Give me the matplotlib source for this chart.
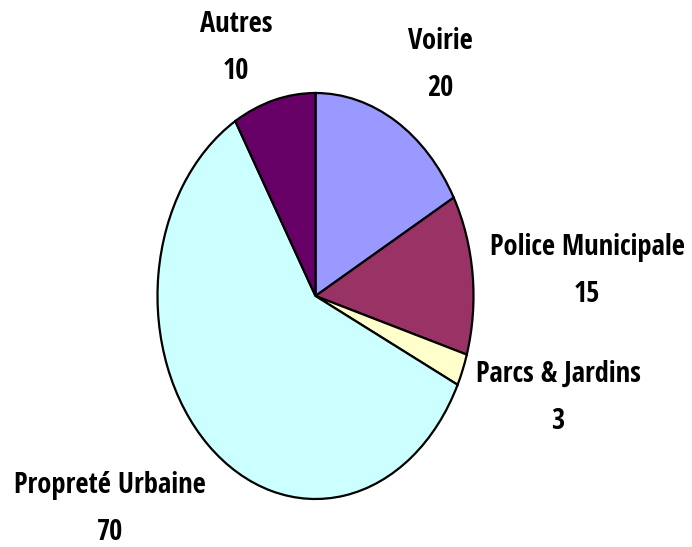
import matplotlib
matplotlib.use("Agg")
from matplotlib import pyplot as plt

services = ["Voirie", "Police Municipale", "Parcs & Jardins", "Propreté Urbaine", "Autres"]
counts = [20, 15, 3, 70, 10]
colors = ["#9999FF", "#993366", "#FFFFCC", "#CCFFFF", "#660066"]

# label block centres, in pixels of the 692x547 figure
label_px = [(440, 65), (587, 271), (558, 398), (110, 509), (236, 48)]


def main():
    plt.rcParams['font.family'] = ["Open Sans Condensed", "DejaVu Sans"]

    W, H = 692, 547
    fig = plt.figure(figsize=(W / 100, H / 100), dpi=100)
    cx, cy, rx, ry = 315.5, 296, 158, 203
    ax = fig.add_axes([(cx - rx) / W, (H - cy - ry) / H, 2 * rx / W, 2 * ry / H])
    ax.pie(counts, colors=colors, startangle=90, counterclock=False,
           wedgeprops=dict(edgecolor="black", linewidth=1.6))
    ax.set_aspect("auto")
    ax.set_xlim(-1, 1)
    ax.set_ylim(-1, 1)
    ax.axis("off")

    for name, n, (px, py) in zip(services, counts, label_px):
        fig.text(px / W, 1 - py / H, f"{name}\n{n}", ha="center", va="center",
                 fontsize=20.5, fontweight="bold", linespacing=1.8)

    fig.savefig("out.png", dpi=100)


if __name__ == '__main__':
    main()
